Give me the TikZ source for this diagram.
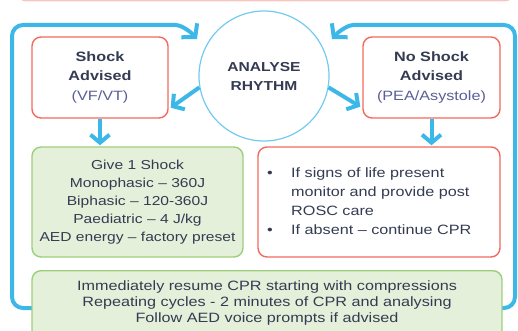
\documentclass[tikz,border=0pt]{standalone}
\usepackage{fontspec}
\setmainfont{Liberation Sans}[FakeStretch=1.2]
\usetikzlibrary{arrows.meta,calc}

\definecolor{cprblue}{HTML}{3CB8E8}
\definecolor{ringblue}{HTML}{72CBEF}
\definecolor{alertred}{HTML}{F26A5E}
\definecolor{bandpink}{HTML}{F7C6C2}
\definecolor{shockgreen}{HTML}{9CCF7C}
\definecolor{shockfill}{HTML}{E4F0DA}
\definecolor{inktext}{HTML}{343B52}
\definecolor{subtext}{HTML}{5A5F96}

\begin{document}
\begin{tikzpicture}[x=1pt,y=-1pt,
  redbox/.style={draw=alertred, line width=1.4pt, fill=white, rounded corners=9pt},
  greenbox/.style={draw=shockgreen, line width=1.4pt, fill=shockfill, rounded corners=9pt},
  txt/.style={text=inktext, align=center, inner sep=0pt, font=\fontsize{13.5}{18}\selectfont},
  flow/.style={draw=cprblue, line width=4pt, -{Straight Barb[length=8pt,width=19pt]}},
  loopline/.style={draw=cprblue, line width=4pt, rounded corners=11pt,
    -{Straight Barb[length=9pt,width=21pt]}},
]
\useasboundingbox (0,0) rectangle (518,331);

% edge of the panel above
\draw[bandpink, line width=1.3pt, rounded corners=8pt] (18,-40) rectangle (513,0.8);

% return loop from the CPR box back to the rhythm check
\coordinate (loopL) at (60,308);
\coordinate (loopR) at (470,308);
\draw[loopline] (loopL) -- (12,308) -- (12,25) -- (165,25)
  .. controls (180,25) and (189,30) .. (197,39);
\draw[loopline] (loopR) -- (515,308) -- (515,25) -- (364,25)
  .. controls (349,25) and (340,30) .. (332,39);

% rhythm check
\node[draw=ringblue, line width=1.2pt, fill=white, circle, minimum size=130pt,
      txt, font=\fontsize{13}{19}\selectfont\bfseries] (rhythm) at (264,76) {ANALYSE\\RHYTHM};

% decision boxes
\node[redbox, minimum width=136pt, minimum height=81pt, txt, font=\fontsize{13.5}{19.5}\selectfont]
  (shock) at (100,77.5) {\textbf{Shock}\\\textbf{Advised}\\{\color{subtext}(VF/VT)}};
\node[redbox, minimum width=137pt, minimum height=81pt, txt, font=\fontsize{13.5}{19.5}\selectfont]
  (noshock) at (431.5,77.5) {\textbf{No Shock}\\\textbf{Advised}\\{\color{subtext}(PEA/Asystole)}};

% actions
\node[greenbox, minimum width=211pt, minimum height=110pt, txt, font=\fontsize{13}{18}\selectfont]
  (give) at (137.5,202) {Give 1 Shock\\Monophasic – 360J\\Biphasic – 120-360J\\Paediatric – 4 J/kg\\AED energy – factory preset};
\node[redbox, minimum width=242pt, minimum height=110pt] (lifebox) at (379,202) {};
\node[txt, anchor=west, align=left, font=\fontsize{13.5}{19}\selectfont] (life) at (267,202)
  {\begin{tabular}{@{}p{24pt}@{}l@{}}
   \textbullet & If signs of life present\\
               & monitor and provide post\\
               & ROSC care\\
   \textbullet & If absent – continue CPR
   \end{tabular}};

% resume CPR
\node[greenbox, minimum width=470pt, minimum height=80pt, anchor=north] (resumebox) at (267,270) {};
\node[txt, font=\fontsize{13.5}{16}\selectfont] (resume) at (267,303)
  {Immediately resume CPR starting with compressions\\Repeating cycles - 2 minutes of CPR and analysing\\Follow AED voice prompts if advised};

% connectors
\draw[flow] (rhythm.190) -- ($(shock.south east)+(2,-11)$);
\draw[flow] (rhythm.350) -- ($(noshock.south west)+(-2,-12)$);
\draw[flow] (shock.south) -- ($(shock.south |- give.north)+(0,-1)$);
\draw[flow] (noshock.south) -- ($(noshock.south |- lifebox.north)+(0,-1)$);
\end{tikzpicture}
\end{document}
